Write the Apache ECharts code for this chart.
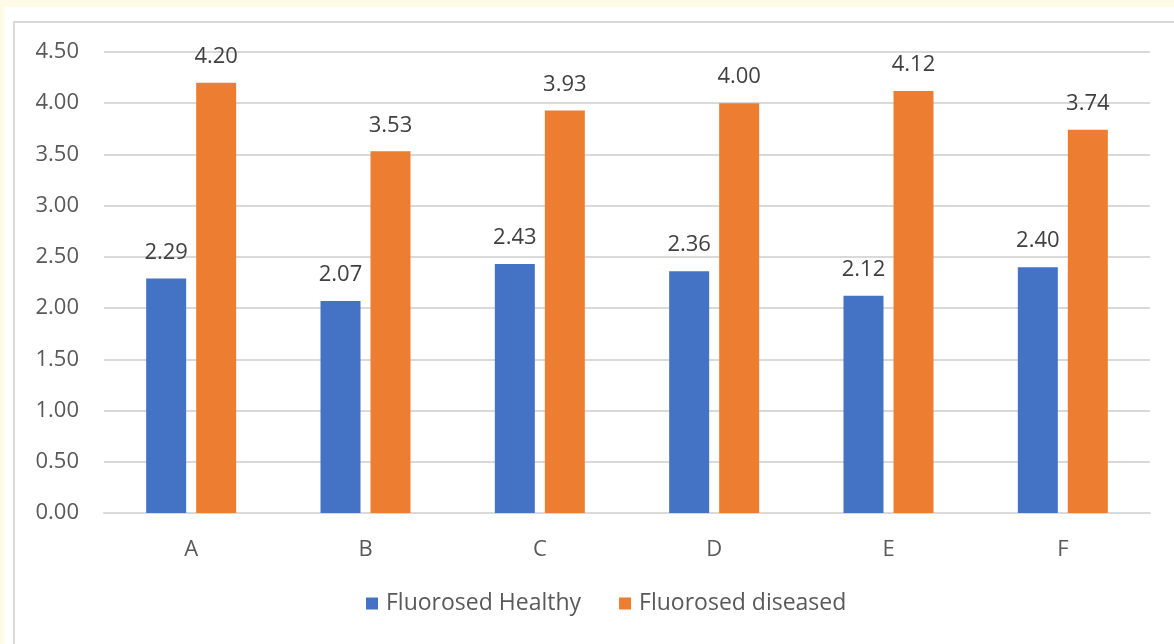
<!DOCTYPE html>
<html>
<head>
<meta charset="utf-8">
<script src="https://cdn.jsdelivr.net/npm/echarts@6/dist/echarts.min.js"></script>
<style>
html,body{margin:0;padding:0;background:#fffbe7;}
#chart{width:1174px;height:644px;}
</style>
</head>
<body>
<div id="chart"></div>
<script>
const categories = ['A', 'B', 'C', 'D', 'E', 'F'];
const healthy = [2.29, 2.07, 2.43, 2.36, 2.12, 2.40];
const diseased = [4.20, 3.53, 3.93, 4.00, 4.12, 3.74];
const seriesNames = ['Fluorosed Healthy', 'Fluorosed diseased'];

const font = '"Open Sans", "Noto Sans", sans-serif';
const chart = echarts.init(document.getElementById('chart'), null, {renderer: 'canvas'});
const labelCfg = {
  show: true, position: 'top', distance: 15,
  formatter: p => p.value.toFixed(2),
  color: '#404040', fontSize: 22, fontFamily: font
};
chart.setOption({
  backgroundColor: '#fffbe7',
  animation: false,
  graphic: [
    {type: 'rect', shape: {x: 4, y: 7, width: 1180, height: 650}, style: {fill: '#ffffff'}, silent: true, z: -10},
    {type: 'rect', shape: {x: 14, y: 22, width: 1200, height: 700}, style: {fill: 'none', stroke: '#d9d9d9', lineWidth: 2}, silent: true, z: -9}
  ],
  grid: {left: 104, right: 24, top: 52, bottom: 131, containLabel: false},
  legend: {
    data: seriesNames, bottom: 24, left: 361,
    itemWidth: 12, itemHeight: 12, itemGap: 38,
    icon: 'rect',
    textStyle: {color: '#595959', fontSize: 23, fontFamily: font, padding: [0, 0, 0, 3]}
  },
  xAxis: {
    type: 'category', data: categories,
    axisLine: {lineStyle: {color: '#d9d9d9', width: 2}},
    axisTick: {show: false},
    axisLabel: {color: '#595959', fontSize: 22, fontFamily: font, margin: 26}
  },
  yAxis: {
    type: 'value', min: 0, max: 4.5, interval: 0.5,
    axisLine: {show: false}, axisTick: {show: false},
    splitLine: {lineStyle: {color: '#d9d9d9', width: 2}},
    axisLabel: {color: '#595959', fontSize: 22, fontFamily: font, margin: 25, formatter: v => v.toFixed(2)}
  },
  series: [
    {name: seriesNames[0], type: 'bar', data: healthy, barWidth: 40, barGap: '25%', itemStyle: {color: '#4472c4'}, label: labelCfg},
    {name: seriesNames[1], type: 'bar', data: diseased, barWidth: 40, barGap: '25%', itemStyle: {color: '#ed7d31'}, label: labelCfg}
  ]
});
</script>
</body>
</html>
